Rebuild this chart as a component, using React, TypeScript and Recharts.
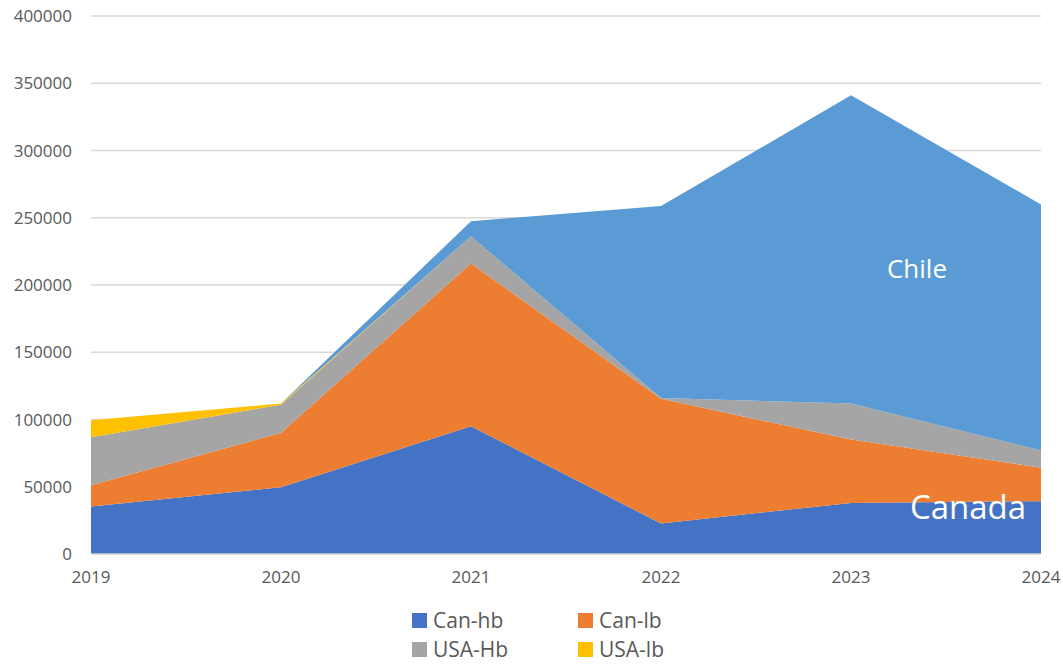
import React from 'react'
import { AreaChart, Area, XAxis, YAxis, CartesianGrid, Legend } from 'recharts'

const years = ['2019', '2020', '2021', '2022', '2023', '2024']
const canHb = [35300, 49700, 95000, 22700, 38000, 39300]
const canLb = [15900, 40400, 120900, 92700, 47100, 24800]
const usaHb = [35600, 20900, 20300, 600, 26800, 12900]
const usaLb = [12600, 900, 0, 0, 0, 0]
const chile = [0, 0, 11200, 142800, 229100, 182900]
const yTicks = [0, 50000, 100000, 150000, 200000, 250000, 300000, 350000, 400000]

const series = [
  { key: 'canHb', name: 'Can-hb', color: '#4472C4', legend: true },
  { key: 'canLb', name: 'Can-lb', color: '#ED7D31', legend: true },
  { key: 'usaHb', name: 'USA-Hb', color: '#A5A5A5', legend: true },
  { key: 'usaLb', name: 'USA-lb', color: '#FFC000', legend: true },
  { key: 'chile', name: 'Chile', color: '#5B9BD5', legend: false },
]

const data = years.map((y, i) => ({
  year: y,
  canHb: canHb[i],
  canLb: canLb[i],
  usaHb: usaHb[i],
  usaLb: usaLb[i],
  chile: chile[i],
}))

const font = '"Open Sans", sans-serif'

function LegendBox() {
  const items = series.filter((s) => s.legend)
  return (
    <div
      style={{
        position: 'relative',
        height: 70,
        width: 1063,
        fontFamily: font,
        fontSize: 21,
        color: '#595959',
      }}
    >
      {items.map((s, i) => (
        <div
          key={s.key}
          style={{
            position: 'absolute',
            left: 412 + (i % 2) * 166,
            top: 12 + Math.floor(i / 2) * 29,
            display: 'flex',
            alignItems: 'center',
            height: 28,
            whiteSpace: 'nowrap',
          }}
        >
          <span style={{ width: 15, height: 15, background: s.color, display: 'inline-block', marginRight: 6 }} />
          <span>{s.name}</span>
        </div>
      ))}
    </div>
  )
}

const noteStyle: React.CSSProperties = {
  position: 'absolute',
  color: '#fff',
  fontFamily: font,
  lineHeight: 1,
  transform: 'translateX(-50%)',
  whiteSpace: 'nowrap',
  pointerEvents: 'none',
}

export default function App() {
  return (
    <div style={{ position: 'absolute', left: 0, top: 0, width: 1063, height: 664, background: '#fff' }}>
      <AreaChart width={1063} height={664} data={data} margin={{ top: 16, right: 22, bottom: 0, left: 0 }}>
        <CartesianGrid vertical={false} stroke="#d9d9d9" strokeWidth={1.5} />
        <XAxis
          dataKey="year"
          axisLine={{ stroke: '#d9d9d9', strokeWidth: 1.5 }}
          tickLine={false}
          height={40}
          tickMargin={11}
          tick={{ fill: '#595959', fontSize: 17, fontFamily: font }}
          interval={0}
        />
        <YAxis
          domain={[0, 400000]}
          ticks={yTicks}
          width={91}
          axisLine={false}
          tickLine={false}
          tickMargin={13}
          tick={{ fill: '#595959', fontSize: 17, fontFamily: font }}
        />
        <Legend
          verticalAlign="bottom"
          wrapperStyle={{ left: 0, width: 1063, height: 70 }}
          content={() => <LegendBox />}
        />
        {series.map((s) => (
          <Area
            key={s.key}
            type="linear"
            dataKey={s.key}
            name={s.name}
            stackId="1"
            stroke="none"
            fill={s.color}
            fillOpacity={1}
            isAnimationActive={false}
            dot={false}
            activeDot={false}
          />
        ))}
      </AreaChart>
      <div style={{ ...noteStyle, left: 917, top: 255, fontSize: 26 }}>Chile</div>
      <div style={{ ...noteStyle, left: 968, top: 490, fontSize: 33 }}>Canada</div>
    </div>
  )
}
